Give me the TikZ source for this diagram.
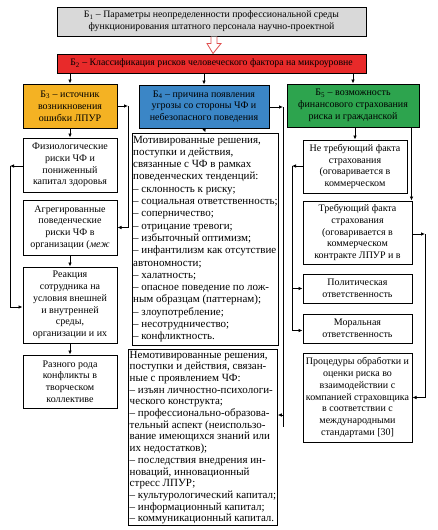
\documentclass[tikz,border=0pt]{standalone}
\usepackage{fontspec}
\setmainfont{Liberation Serif}
\usetikzlibrary{arrows.meta,calc}
\definecolor{bgrey}{HTML}{D9D9D9}
\definecolor{bred}{HTML}{E82A2A}
\definecolor{borange}{HTML}{F4B223}
\definecolor{bblue}{HTML}{3B86C6}
\definecolor{bgreen}{HTML}{2DA44E}
\definecolor{hollowred}{HTML}{E05050}
\begin{document}
\begin{tikzpicture}[x=1pt,y=-1pt,
  box/.style={draw=black, line width=1pt, inner sep=1pt, align=center,
    font=\fontsize{10}{11.8}\selectfont},
  listbox/.style={box, align=left, font=\fontsize{11}{12.3}\selectfont},
  arr/.style={-{Latex[length=4pt,width=3.6pt]}, line width=0.8pt},
  ln/.style={line width=0.8pt}]
\useasboundingbox[fill=white] (0,0) rectangle (437,530);

% header boxes
\node[box, fill=bgrey, minimum width=309, minimum height=29, font=\fontsize{9.8}{11.8}\selectfont] (B1) at (211.5,21.5)
  {Б\textsubscript{1} – Параметры неопределенности профессиональной среды\\функционирования штатного персонала научно-проектной};
\node[box, fill=bred, minimum width=309, minimum height=19, font=\fontsize{9.8}{11.8}\selectfont] (B2) at (211.5,63.5)
  {Б\textsubscript{2} – Классификация рисков человеческого фактора на микроуровне};

% hollow arrow B1 -> B2
\draw[hollowred, line width=0.8pt, fill=white]
  ($(B1.south)+(-0.5,0)$) -- ++(0,7) -- ++(-4,0) -- ($(B2.north)+(1.5,0)$)
  -- ($(B1.south)+(9.5,7)$) -- ++(-4,0) -- ($(B1.south)+(5.5,0)$);

\node[box, fill=borange, minimum width=94, minimum height=44] (B3) at (70,106)
  {Б\textsubscript{3} – источник\\возникновения\\ошибки ЛПУР};
\node[box, fill=bblue, minimum width=130, minimum height=43] (B4) at (204,106.5)
  {Б\textsubscript{4} – причина появления\\угрозы со стороны ЧФ и\\небезопасного поведения};
\node[box, fill=bgreen, minimum width=132, minimum height=43] (B5) at (353,105.5)
  {Б\textsubscript{5} – возможность\\финансового страхования\\риска и гражданской};

% left column
\node[box, minimum width=94, minimum height=54] (L1) at (70,165)
  {Физиологические\\риски ЧФ и\\пониженный\\капитал здоровья};
\node[box, minimum width=94, minimum height=55] (L2) at (70,227.5)
  {Агрегированные\\поведенческие\\риски ЧФ в\\организации (\textit{меж}};
\node[box, minimum width=94, minimum height=76] (L3) at (70,305)
  {Реакция\\сотрудника на\\условия внешней\\и внутренней\\среды,\\организации и их};
\node[box, minimum width=94, minimum height=53] (L4) at (70,381.5)
  {Разного рода\\конфликты в\\творческом\\коллективе};

% middle column
\node[listbox, minimum width=143, minimum height=212] (M1) at (205.5,239)
  {Мотивированные решения,\\поступки и действия,\\связанные с ЧФ в рамках\\поведенческих тенденций:\\– склонность к риску;\\– социальная ответственность;\\– соперничество;\\– отрицание тревоги;\\– избыточный оптимизм;\\– инфантилизм как отсутствие\\автономности;\\– халатность;\\– опасное поведение по лож-\\ным образцам (паттернам);\\– злоупотребление;\\– несотрудничество;\\– конфликтность.};
\node[listbox, minimum width=141, minimum height=175, font=\fontsize{11}{11.7}\selectfont] (M2) at (203,437.5)
  {Немотивированные решения,\\поступки и действия, связан-\\ные с проявлением ЧФ:\\– изъян личностно-психологи-\\ческого конструкта;\\– профессионально-образова-\\тельный аспект (неиспользо-\\вание имеющихся знаний или\\их недостатков);\\– последствия внедрения ин-\\новаций, инновационный\\стресс ЛПУР;\\– культурологический капитал;\\– информационный капитал;\\– коммуникационный капитал.};

% right column
\node[box, minimum width=104, minimum height=53] (R1) at (355,166.5)
  {Не требующий факта\\страхования\\(оговаривается в\\коммерческом};
\node[box, minimum width=109, minimum height=63] (R2) at (357.5,232.5)
  {Требующий факта\\страхования\\(оговаривается в\\коммерческом\\контракте ЛПУР и в};
\node[box, minimum width=109, minimum height=29] (R3) at (357.5,288.5)
  {Политическая\\ответственность};
\node[box, minimum width=109, minimum height=29] (R4) at (357.5,328.5)
  {Моральная\\ответственность};
\node[box, minimum width=109, minimum height=89] (R5) at (357.5,397.5)
  {Процедуры обработки и\\оценки риска во\\взаимодействии с\\компанией страховщика\\в соответствии с\\международными\\стандартами [30]};

% B2 -> B3,B4,B5
\draw[arr] (B2.south -| B3.north) -- (B3.north);
\draw[arr] (B2.south -| B4.north) -- (B4.north);
\draw[arr] (B2.south -| B5.north) -- (B5.north);

% left column connectors
\draw[arr] (B3.south) -- (L1.north);
\draw[arr] (L2.south) -- (L3.north);
\draw[arr] (L3.south) -- (L4.north);
\coordinate (cB3) at (128,106);
\draw[arr] (B3.east) -- (cB3);
\draw[arr] (cB3) |- (L2.east);
\coordinate (cL1) at (10,166);
\draw[arr] (L1.west |- cL1) -- (cL1);
\draw[arr] (cL1) |- ($(L3.west)+(0,2)$);

% middle
\draw[arr] (B4.south) -- (M1.north);
\coordinate (cB4) at (283,107);
\coordinate (cB4end) at (283,427);
\coordinate (cM2) at (283,415);
\draw[arr] (B4.east |- cB4) -- (cB4);
\draw[ln] (cB4) -- (cB4end);
\draw[arr] (cM2) -- (M2.east |- cM2);

% right column connectors
\draw[arr] (R1.north |- B5.south) -- (R1.north);
\draw[arr] ($(B5.south -| R2.east)+(-1,0)$) -- ($(R2.north east)+(-1,0)$);
\coordinate (cR1) at (292,166);
\draw[arr] (R1.west |- cR1) -- (cR1);
\draw[arr] (cR1) |- (R3.west);
\draw[arr] (cR1) |- ($(R4.west)+(0,2)$);
\coordinate (cR2) at (425,234);
\draw[arr] (R2.east |- cR2) -- (cR2);
\draw[arr] (cR2) |- (R5.east);
\end{tikzpicture}
\end{document}
